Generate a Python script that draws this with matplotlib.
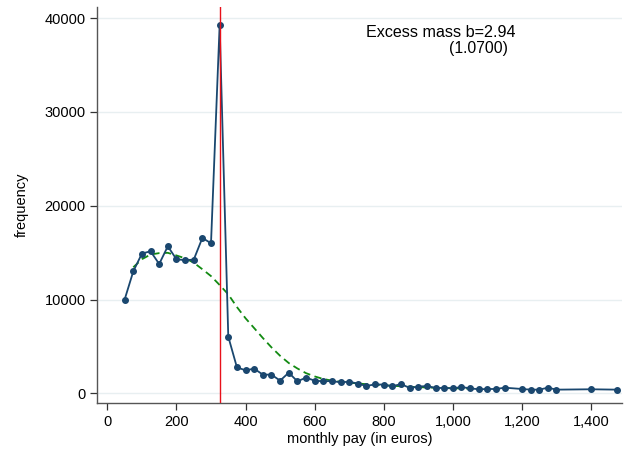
import matplotlib
matplotlib.use('Agg')
import numpy as np
import matplotlib.pyplot as plt

plt.rcParams['font.family'] = ['Liberation Sans', 'DejaVu Sans']

# observed bin counts (bin width 25 euros)
pay_bins = [50, 75, 100, 125, 150, 175, 200, 225, 250, 275, 300, 325, 350, 375,
            400, 425, 450, 475, 500, 525, 550, 575, 600, 625, 650, 675, 700, 725,
            750, 775, 800, 825, 850, 875, 900, 925, 950, 975, 1000, 1025, 1050,
            1075, 1100, 1125, 1150, 1200, 1225, 1250, 1275, 1300, 1400, 1475]
freq = [10000, 13000, 14900, 15150, 13790, 15680, 14290, 14200, 14250, 16570,
        16000, 39300, 6040, 2770, 2450, 2630, 1990, 1990, 1350, 2200, 1280, 1670,
        1350, 1280, 1310, 1170, 1240, 1030, 780, 960, 920, 750, 990, 570, 710,
        780, 570, 570, 530, 670, 530, 430, 460, 460, 600, 460, 390, 390, 600,
        390, 430, 390]

# counterfactual fit
cf_bins = [75, 100, 125, 150, 175, 200, 225, 250, 275, 300, 325, 350, 375, 400,
           425, 450, 475, 500, 525, 550, 575, 600, 625, 650, 675, 700, 725, 750,
           775, 800, 825, 850, 875, 900, 925, 950, 975, 1000, 1025, 1050, 1075]
cf_freq = [13440, 14300, 14800, 14950, 14980, 14700, 14400, 13930, 13230, 12500,
           11550, 10550, 9200, 8000, 6950, 5900, 4900, 4000, 3230, 2650, 2150,
           1800, 1530, 1350, 1240, 1130, 1050, 970, 900, 850, 800, 750, 700, 660,
           620, 590, 560, 540, 520, 500, 480]

threshold = 325
x_ticks = [0, 200, 400, 600, 800, 1000, 1200, 1400]
y_ticks = [0, 10000, 20000, 30000, 40000]

fig = plt.figure(figsize=(6.24, 4.51), dpi=100)
ax = fig.add_axes([0.156, 0.1064, 0.841, 0.879])

ax.set_xlim(-29, 1490)
ax.set_ylim(-1035, 41240)

for yv in y_ticks:
    ax.axhline(yv, color='#e8eff1', lw=1.0, zorder=0)

ax.plot(cf_bins, cf_freq, color='#128a12', lw=1.3, ls=(0, (4, 2.5)), zorder=2)
ax.plot(pay_bins, freq, color='#1a476f', lw=1.3, marker='o', markersize=4,
        zorder=3)
ax.axvline(threshold, color='#e8101a', lw=1.0, zorder=4)

ax.text(1180, 38430, 'Excess mass b=2.94', ha='right', va='center', fontsize=11.6)
ax.text(1160, 36800, '(1.0700)', ha='right', va='center', fontsize=11.3)

ax.set_xticks(x_ticks)
ax.set_xticklabels(['{:,}'.format(v) for v in x_ticks])
ax.set_yticks(y_ticks)
ax.set_yticklabels([str(v) for v in y_ticks])
ax.tick_params(direction='out', length=5, width=0.9, labelsize=10.5, color='#333333')

for side in ['top', 'right']:
    ax.spines[side].set_visible(False)
for side in ['left', 'bottom']:
    ax.spines[side].set_color('#555555')
    ax.spines[side].set_linewidth(1.0)

ax.set_xlabel('monthly pay (in euros)', fontsize=10.5, labelpad=2)
ax.set_ylabel('frequency', fontsize=10.5, labelpad=11)

plt.savefig('out.png', dpi=100)
